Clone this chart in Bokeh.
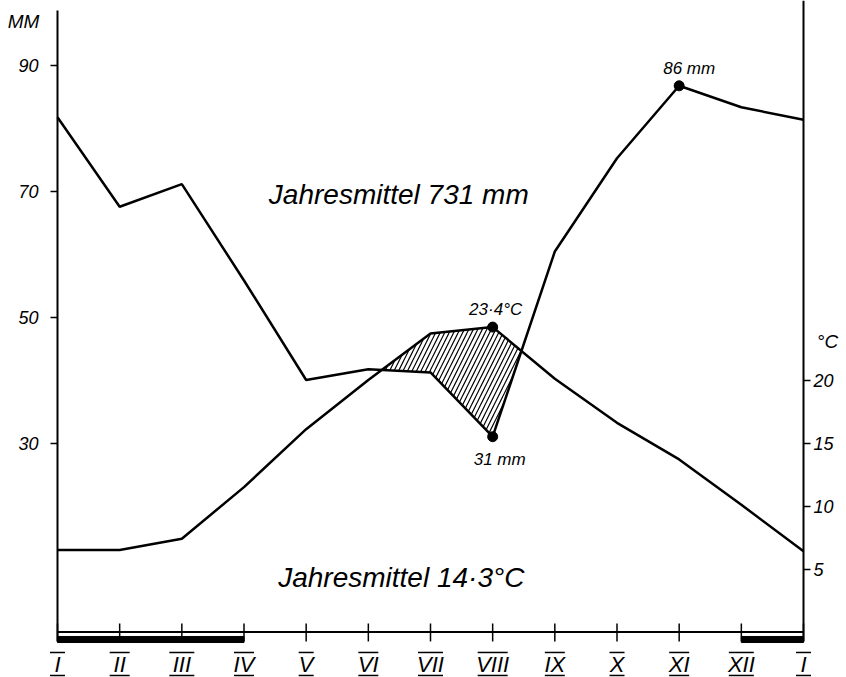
import numpy as np
from bokeh.plotting import figure
from bokeh.models import (LinearAxis, Range1d, FixedTicker, ColumnDataSource,
                          LabelSet)
from bokeh.core.properties import value
from bokeh.embed import file_html
from bokeh.resources import INLINE

# ---------------- data ----------------
months = ["I", "II", "III", "IV", "V", "VI", "VII", "VIII", "IX", "X", "XI", "XII", "I"]
precip_mm = [81.7, 67.5, 71.1, 55.8, 40.0, 41.7, 41.2, 31.0, 60.4, 75.2, 86.7, 83.3, 81.3]
temp_c = [6.5, 6.5, 7.4, 11.5, 16.1, 20.0, 23.7, 24.2, 20.1, 16.6, 13.7, 10.1, 6.4]
mm_ticks = [30, 50, 70, 90]
c_ticks = [5, 10, 15, 20]
frost_start = [0, 11]
frost_end = [3, 12]
annual_precip_label = "Jahresmittel 731 mm"
annual_temp_label = "Jahresmittel 14·3°C"
max_temp_label = "23·4°C"
min_precip_label = "31 mm"
max_precip_label = "86 mm"
mm_unit = "MM"
c_unit = "°C"

FONT = "Liberation Sans"
x = np.arange(len(months))
W, H = 846, 677
PX = 62.167          # px per month
X0, X1 = -57 / PX, 12 + 43 / PX
Y0, Y1 = -7.222, 100.24

p = figure(width=W, height=H, x_range=Range1d(X0, X1), y_range=Range1d(Y0, Y1),
           x_axis_location=None, y_axis_location=None, toolbar_location=None,
           output_backend="svg", min_border_left=0, min_border_right=0,
           min_border_top=0, min_border_bottom=0, background_fill_color="white",
           border_fill_color="white")
p.outline_line_color = None
p.grid.visible = False
p.extra_y_ranges = {"temp": Range1d(Y0 / 2, Y1 / 2)}

def style_axis(ax, standoff):
    ax.axis_line_width = 2
    ax.axis_line_color = "black"
    ax.major_tick_in = 0
    ax.major_tick_out = 7
    ax.major_tick_line_width = 1.5
    ax.minor_tick_line_color = None
    ax.major_label_text_font = FONT
    ax.major_label_text_font_style = "italic"
    ax.major_label_text_font_size = "18px"
    ax.major_label_text_color = "black"
    ax.major_label_standoff = standoff

la = LinearAxis(ticker=FixedTicker(ticks=mm_ticks), bounds=(-1.5, 98.65), fixed_location=0)
style_axis(la, 12)
p.add_layout(la, "left")
ra = LinearAxis(ticker=FixedTicker(ticks=c_ticks), y_range_name="temp",
                bounds=(-0.75, 50.1), fixed_location=12)
style_axis(ra, 3)
p.add_layout(ra, "right")

# baseline and month ticks
p.segment(x0=[x[0]], y0=[0], x1=[x[-1]], y1=[0], line_color="black", line_width=2)
p.segment(x0=x, y0=1.35, x1=x, y1=-1.5, line_color="black", line_width=1.5)
p.quad(left=frost_start, right=frost_end, top=-0.71, bottom=-1.67,
       fill_color="black", line_color="black")

# hatched dry period (temperature scale: 1 °C = 2 mm)
pr = np.array(precip_mm, dtype=float)
t2 = 2 * np.array(temp_c, dtype=float)
xs = []
for i in range(len(x) - 1):
    xs.append(float(i))
    d0, d1 = t2[i] - pr[i], t2[i + 1] - pr[i + 1]
    if d0 * d1 < 0:
        xs.append(i + d0 / (d0 - d1))
xs.append(float(len(x) - 1))
xs = np.array(xs)
lo = np.interp(xs, x, pr)
hi = np.maximum(lo, np.interp(xs, x, t2))
p.varea(x=xs, y1=lo, y2=hi, fill_color=None, hatch_pattern="/",
        hatch_color="black", hatch_scale=9, hatch_weight=1.2)

# curves
p.line(x, precip_mm, line_color="black", line_width=2.5)
p.line(x, temp_c, y_range_name="temp", line_color="black", line_width=2.5)

imax_t = int(np.argmax(temp_c))
imin_p = int(np.argmin(precip_mm))
imax_p = int(np.argmax(precip_mm))
p.scatter([imax_t], [temp_c[imax_t]], y_range_name="temp", size=10, color="black")
p.scatter([imin_p, imax_p], [precip_mm[imin_p], precip_mm[imax_p]], size=10, color="black")

def txt(xv, yv, t, size, xo=0, yo=0, rng="default"):
    p.text(x=[xv], y=[yv], text=[t], x_offset=xo, y_offset=yo, y_range_name=rng,
           text_font=value(FONT), text_font_style="italic", text_font_size=size,
           text_align="center", text_baseline="middle", text_color="black")

txt(imax_t, temp_c[imax_t], max_temp_label, "17px", 3, -18, "temp")
txt(imin_p, precip_mm[imin_p], min_precip_label, "17px", 7, 23)
txt(imax_p, precip_mm[imax_p], max_precip_label, "17px", 10, -17)
txt(5.49, 69.4, annual_precip_label, "28px")
txt(5.53, 8.65, annual_temp_label, "28px")
txt(-0.547, 96.9, mm_unit, "19px")
txt(12.386, 46.1, c_unit, "19px")

# month labels with over/under bars
src = ColumnDataSource(dict(x=x, y=[-5.08] * len(x), m=months))
p.add_layout(LabelSet(x="x", y="y", text="m", source=src, text_align="center",
                      text_baseline="middle", text_font=value(FONT),
                      text_font_style="italic", text_font_size="22px",
                      text_color="black"))
hw = np.array([(5 + 2.5 * len(m)) / PX for m in months])
p.segment(x0=np.concatenate([x - hw, x - hw]),
          x1=np.concatenate([x + hw, x + hw]),
          y0=np.concatenate([np.full(len(x), -3.25), np.full(len(x), -6.9)]),
          y1=np.concatenate([np.full(len(x), -3.25), np.full(len(x), -6.9)]),
          line_color="black", line_width=1.5)

open("out.html", "w").write(file_html(p, INLINE))
